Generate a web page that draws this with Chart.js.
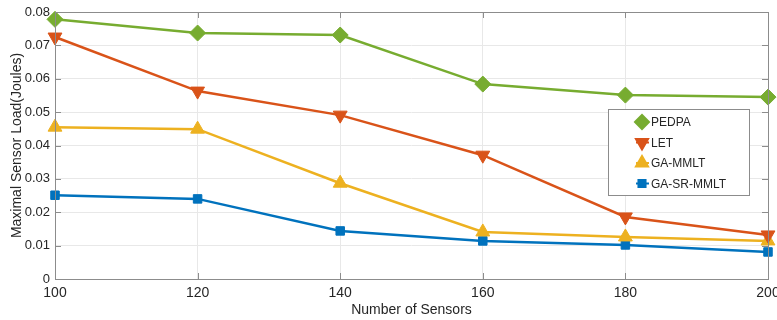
<!DOCTYPE html>
<html>
<head>
<meta charset="utf-8">
<script src="https://cdn.jsdelivr.net/npm/chart.js@4.4.3/dist/chart.umd.min.js"></script>
<style>
  html, body { margin: 0; padding: 0; background: #fff; }
  #wrap { width: 777px; height: 320px; position: relative; }
</style>
</head>
<body>
<div id="wrap"><canvas id="chart"></canvas></div>
<script>
// Data
const sensors = [100, 120, 140, 160, 180, 200];
const pedpa = [0.0778, 0.0737, 0.0731, 0.0584, 0.0551, 0.0545];
const let_ = [0.0725, 0.0563, 0.0491, 0.0371, 0.0186, 0.0132];
const gaMmlt = [0.0455, 0.0449, 0.0287, 0.0141, 0.0126, 0.0114];
const gaSrMmlt = [0.0251, 0.0240, 0.0144, 0.0114, 0.0102, 0.0081];
const xTicks = [100, 120, 140, 160, 180, 200];
const yTicks = [0, 0.01, 0.02, 0.03, 0.04, 0.05, 0.06, 0.07, 0.08];

const FONT = '"Liberation Sans", Arial, sans-serif';

function toPoints(ys) {
  return sensors.map((x, i) => ({ x, y: ys[i] }));
}

const series = [
  { label: 'PEDPA', data: pedpa, color: '#77AC30', style: 'rectRot', radius: 8, rot: 0 },
  { label: 'LET', data: let_, color: '#D95319', style: 'triangle', radius: 8, rot: 180 },
  { label: 'GA-MMLT', data: gaMmlt, color: '#EDB120', style: 'triangle', radius: 8, rot: 0 },
  { label: 'GA-SR-MMLT', data: gaSrMmlt, color: '#0072BD', style: 'rect', radius: 6, rot: 0 }
];

// box round the plot, inner ticks and the legend inside the axes
const framePlugin = {
  id: 'frame',
  afterDraw(chart) {
    const { ctx, chartArea: a, scales } = chart;
    ctx.save();
    ctx.strokeStyle = '#8c8c8c';
    ctx.lineWidth = 1;
    ctx.strokeRect(a.left + 0.5, a.top + 0.5, a.right - a.left, a.bottom - a.top);
    ctx.beginPath();
    for (const v of yTicks) {
      const y = Math.round(scales.y.getPixelForValue(v)) + 0.5;
      ctx.moveTo(a.left, y); ctx.lineTo(a.left + 6, y);
      ctx.moveTo(a.right, y); ctx.lineTo(a.right - 6, y);
    }
    for (const v of xTicks) {
      const x = Math.round(scales.x.getPixelForValue(v)) + 0.5;
      ctx.moveTo(x, a.bottom); ctx.lineTo(x, a.bottom - 6);
      ctx.moveTo(x, a.top); ctx.lineTo(x, a.top + 6);
    }
    ctx.stroke();

    // legend
    const lx = 608, ly = 109, lw = 141, lh = 86;
    ctx.fillStyle = '#fff';
    ctx.fillRect(lx, ly, lw, lh);
    ctx.strokeStyle = '#8c8c8c';
    ctx.strokeRect(lx + 0.5, ly + 0.5, lw, lh);
    ctx.font = '12px ' + FONT;
    ctx.textBaseline = 'middle';
    series.forEach((s, i) => {
      const y = ly + 13 + i * 20.5;
      ctx.strokeStyle = s.color;
      ctx.lineWidth = 2;
      ctx.beginPath();
      ctx.moveTo(lx + 28, y); ctx.lineTo(lx + 41, y);
      ctx.stroke();
      ctx.fillStyle = s.color;
      Chart.helpers.drawPoint(ctx, {
        pointStyle: s.style, radius: s.radius - 1, rotation: s.rot, borderWidth: 1
      }, lx + 34, y);
      ctx.fillStyle = '#262626';
      ctx.fillText(s.label, lx + 43, y + 1);
    });
    ctx.restore();
  }
};

new Chart(document.getElementById('chart'), {
  type: 'line',
  data: {
    datasets: series.map(s => ({
      label: s.label,
      data: toPoints(s.data),
      borderColor: s.color,
      backgroundColor: s.color,
      borderWidth: 2.5,
      pointStyle: s.style,
      pointRadius: s.radius,
      pointHoverRadius: s.radius,
      pointRotation: s.rot,
      pointBorderWidth: 1,
      tension: 0,
      clip: false
    }))
  },
  options: {
    responsive: true,
    maintainAspectRatio: false,
    animation: false,
    layout: { padding: { left: 9, right: 8, top: 12, bottom: 0 } },
    plugins: {
      legend: { display: false },
      tooltip: { enabled: false }
    },
    scales: {
      x: {
        type: 'linear',
        min: 100,
        max: 200,
        afterBuildTicks: s => { s.ticks = xTicks.map(v => ({ value: v })); },
        afterFit: s => { s.height = 41; s.paddingLeft = 0; s.paddingRight = 0; },
        grid: { color: '#e8e8e8', drawTicks: false },
        border: { display: false },
        ticks: { color: '#262626', font: { family: FONT, size: 14 }, padding: 6, maxRotation: 0 },
        title: { display: true, text: 'Number of Sensors', color: '#262626', font: { family: FONT, size: 14 }, padding: { top: 2, bottom: 1 } }
      },
      y: {
        min: 0,
        max: 0.08,
        afterBuildTicks: s => { s.ticks = yTicks.map(v => ({ value: v })); },
        afterFit: s => { s.width = 46; s.paddingTop = 0; s.paddingBottom = 0; },
        grid: { color: '#e8e8e8', drawTicks: false },
        border: { display: false },
        ticks: {
          color: '#262626',
          font: { family: FONT, size: 13 },
          padding: 5,
          callback: v => String(+v.toFixed(2))
        },
        title: { display: true, text: 'Maximal Sensor Load(Joules)', color: '#262626', font: { family: FONT, size: 14 }, padding: { top: 0, bottom: 0 } }
      }
    }
  },
  plugins: [framePlugin]
});
</script>
</body>
</html>
